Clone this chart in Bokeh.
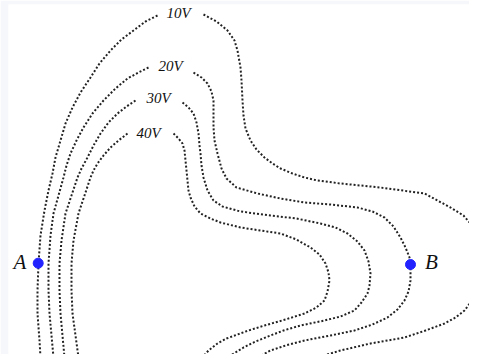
from bokeh.plotting import figure
from bokeh.models import Range1d
from bokeh.core.properties import value
from bokeh.embed import file_html
from bokeh.resources import INLINE

# Equipotential lines (x px, y px from top)
v10_left = [(157,15),(145,21),(133,30),(121,39),(110,50),(99,63),(90,77),(80,92),(72,107),(65,123),(60,140),(55,157),(52,173),(48,190),(44,210),(40,235),(38,263),(37,290),(37,313),(39,340),(40,357),(41,370)]
v10_right = [(203,14),(216,21),(227,30),(234,40),(237,50),(240,67),(241,80),(242,100),(243,115),(245,128),(250,140),(256,149),(264,157),(272,163),(280,168),(292,173),(304,177),(317,180),(340,183),(380,187),(424,193),(450,207),(463,215),(470,223),(477,237),(482,262),(477,290),(470,302),(464,310),(455,317),(444,323),(425,330),(404,337),(370,343),(340,350),(317,357),(295,368)]
v20_left = [(148,67),(138,72),(127,78),(115,88),(103,100),(92,113),(83,127),(76,140),(70,153),(66,165),(63,177),(58,195),(53,213),(50,235),(48,263),(48,290),(49,313),(51,335),(53,357),(54,370)]
v20_right = [(193,72),(201,77),(207,83),(211,91),(213,100),(213,113),(213,127),(214,140),(217,153),(221,168),(226,178),(236,187),(257,193),(280,198),(304,202),(330,204),(357,207),(372,211),(384,217),(393,226),(400,237),(405,247),(409,257),(410,263),(410,280),(408,291),(404,300),(397,309),(387,317),(372,324),(354,330),(330,335),(304,340),(285,345),(270,350),(257,357),(245,368)]
v30_left = [(135,100),(126,106),(117,113),(108,122),(100,133),(93,145),(87,157),(81,168),(77,177),(71,195),(65,213),(61,240),(59,263),(59,290),(60,313),(62,335),(64,357),(65,370)]
v30_right = [(182,102),(188,107),(193,113),(196,122),(198,133),(199,145),(200,153),(201,165),(203,177),(207,190),(213,200),(222,206),(240,211),(270,215),(296,218),(320,223),(335,227),(347,233),(357,241),(364,250),(368,261),(370,273),(369,285),(367,293),(361,302),(354,310),(340,316),(324,320),(300,325),(283,330),(270,335),(255,341),(243,347),(227,357),(218,368)]
v40_left = [(127,133),(118,140),(110,147),(103,155),(97,163),(93,170),(90,177),(84,195),(78,213),(73,240),(71,263),(71,290),(72,313),(75,335),(78,357),(80,370)]
v40_right = [(173,133),(178,138),(182,143),(184,150),(185,160),(186,170),(187,180),(188,190),(190,197),(194,206),(200,213),(210,218),(220,222),(240,227),(260,230),(280,233),(296,239),(310,247),(319,254),(325,263),(328,272),(329,280),(327,291),(324,300),(316,307),(304,313),(285,319),(264,325),(248,330),(237,334),(226,338),(217,343),(208,350),(201,358),(195,368)]

label_texts = ["10V", "20V", "30V", "40V"]
label_x = [178, 170, 158, 148]
label_y = [12, 65.5, 97, 132]

point_names = ["A", "B"]
point_x = [37.7, 410]
point_y = [262.7, 264]
point_label_x = [19.5, 431]
point_label_y = [261.5, 261]

p = figure(width=469, height=354, output_backend="svg", toolbar_location=None,
           x_range=Range1d(8, 469), y_range=Range1d(-354, -4),
           min_border=0, min_border_left=8, min_border_right=0,
           min_border_top=4, min_border_bottom=0)
p.axis.visible = False
p.grid.visible = False
p.outline_line_color = None
p.background_fill_color = "white"
p.border_fill_color = "#f6f7fb"

for curve in [v10_left, v10_right, v20_left, v20_right, v30_left, v30_right, v40_left, v40_right]:
    xs = [c[0] for c in curve]
    ys = [-c[1] for c in curve]
    p.line(xs, ys, line_color="#222222", line_width=2, line_dash="2 2")

p.text(x=label_x, y=[-v for v in label_y], text=label_texts,
       text_font=value("Liberation Serif"), text_font_style="italic",
       text_font_size="15px", text_align="center", text_baseline="middle",
       text_color="#111111")

p.scatter(x=point_x, y=[-v for v in point_y], size=10, fill_color="#2222ff",
          line_color="#2222ff")

p.text(x=point_label_x, y=[-v for v in point_label_y], text=point_names,
       text_font=value("Liberation Serif"), text_font_style="italic",
       text_font_size="21px", text_align="center", text_baseline="middle",
       text_color="#111111")

html = file_html(p, INLINE)
open("out.html", "w").write(html)
